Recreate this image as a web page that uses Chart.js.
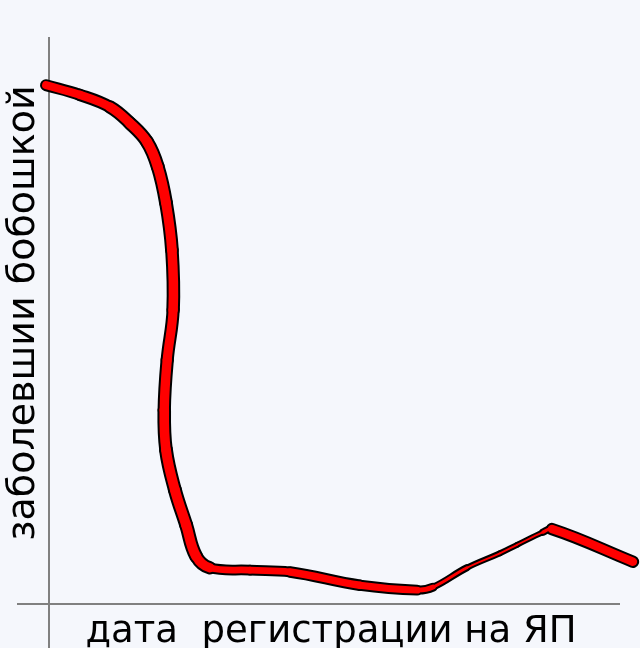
<!DOCTYPE html>
<html>
<head>
<meta charset="utf-8">
<script src="https://cdn.jsdelivr.net/npm/chart.js@4.4.1/dist/chart.umd.min.js"></script>
<style>
    body { margin: 0; background: #f5f7fc; }
    canvas { display: block; }
</style>
</head>
<body>
<canvas id="myChart" width="640" height="648"></canvas>
<script>
// x - дата регистрации (условные единицы), y - заболевшие
const dates = [-0.5, 5.2, 10.3, 13.7, 16.6, 18.4, 19.8, 20.8, 21.0, 20.0, 19.5, 19.8, 21.3, 23.2, 24.9, 27.2, 34.0, 40.8, 52.6, 62.3, 65.0, 70.7, 76.3, 79.2, 83.6, 85.1, 98.8];
const sick = [85.9, 84.3, 82.3, 79.6, 76.5, 72.4, 66.4, 58.6, 48.7, 40.4, 32.1, 25.5, 18.9, 13.1, 7.9, 6.0, 5.6, 5.3, 3.1, 2.3, 2.8, 6.0, 8.4, 9.8, 11.9, 12.4, 7.0];

const xTitle = 'дата  регистрации на ЯП';
const yTitle = 'заболевшии бобошкой';

const points = dates.map((d, i) => ({ x: d, y: sick[i] }));

// ширина "пера" зависит от направления штриха
const nib = 25 * Math.PI / 180;
function penWidth(c) {
    const dx = c.p1.x - c.p0.x;
    const dy = c.p0.y - c.p1.y;
    const s = Math.abs(Math.sin(Math.atan2(dy, dx) - nib));
    return 1 + 9 * Math.pow(s, 0.6);
}

const axesPlugin = {
    id: 'axes',
    beforeDatasetsDraw(chart) {
        const c = chart.ctx;
        const x0 = chart.scales.x.getPixelForValue(0);
        const y0 = chart.scales.y.getPixelForValue(0);
        c.save();
        c.strokeStyle = '#808080';
        c.lineWidth = 2;
        c.beginPath();
        c.moveTo(x0, 37);
        c.lineTo(x0, 648);
        c.moveTo(17, y0);
        c.lineTo(620, y0);
        c.stroke();

        c.fillStyle = '#000';
        c.textAlign = 'center';
        c.textBaseline = 'alphabetic';
        c.font = '37px "DejaVu Sans"';
        c.fillText(xTitle, 331, 642);

        c.translate(34, 313);
        c.rotate(-Math.PI / 2);
        c.font = '38px "DejaVu Sans"';
        c.fillText(yTitle, 0, 0);
        c.restore();
    }
};

const ctx = document.getElementById('myChart');

new Chart(ctx, {
    type: 'line',
    data: {
        datasets: [{
            data: points,
            borderColor: '#ff0000',
            tension: 0.4,
            pointRadius: 0,
            clip: false,
            borderCapStyle: 'round',
            borderJoinStyle: 'round',
            segment: {
                borderWidth: c => penWidth(c)
            }
        }, {
            data: points,
            borderColor: '#000000',
            tension: 0.4,
            pointRadius: 0,
            clip: false,
            borderCapStyle: 'round',
            borderJoinStyle: 'round',
            segment: {
                borderWidth: c => penWidth(c) + 4
            }
        }]
    },
    options: {
        responsive: false,
        animation: false,
        layout: { padding: { left: 49, right: 0, top: 0, bottom: 44 } },
        plugins: { legend: { display: false }, tooltip: { enabled: false } },
        scales: {
            x: { type: 'linear', min: 0, max: 100, display: false },
            y: { type: 'linear', min: 0, max: 100, display: false }
        }
    },
    plugins: [axesPlugin]
});
</script>
</body>
</html>
